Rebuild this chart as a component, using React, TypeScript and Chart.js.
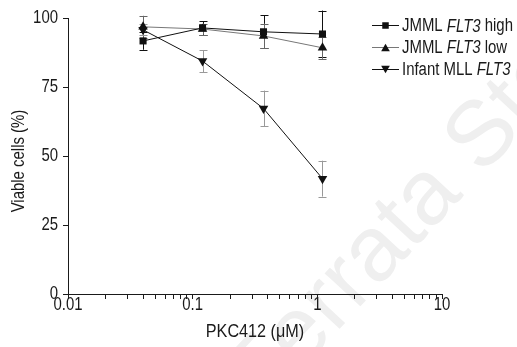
import { useEffect, useRef } from 'react';
import { Chart, registerables } from 'chart.js';
Chart.register(...registerables);

const doses = [0.04, 0.12, 0.37, 1.1];
const highMean = [91.7, 96.4, 95.0, 94.2];
const highErr = [3.2, 2.5, 6.0, 8.5];
const lowMean = [96.8, 96.0, 93.5, 89.2];
const lowErr = [4.0, 2.0, 4.5, 4.0];
const mllMean = [95.7, 84.4, 67.2, 41.8];
const mllErr = [2.0, 4.0, 6.5, 6.5];
const xMajor = [0.01, 0.1, 1, 10];
const xMajorLabels = ['0.01', '0.1', '1', '10'];
const yTicks = [0, 25, 50, 75, 100];
const legendParts = [
  ['JMML ', 'FLT3', ' high'],
  ['JMML ', 'FLT3', ' low'],
  ['Infant MLL ', 'FLT3', ''],
];

const FONT = '"Liberation Sans", Arial, sans-serif';
const SX = 0.83;
const INK = '#1a1a1a';

function drawText(ctx: CanvasRenderingContext2D, text: string, x: number, y: number, align: CanvasTextAlign, size = 18, sx = SX, italic = false, rot = 0) {
  ctx.save();
  ctx.translate(x, y);
  if (rot) ctx.rotate(rot);
  ctx.scale(sx, 1);
  ctx.font = (italic ? 'italic ' : '') + `${size}px ${FONT}`;
  ctx.textAlign = align;
  ctx.textBaseline = 'middle';
  ctx.fillStyle = INK;
  ctx.fillText(text, 0, 0);
  ctx.restore();
}

function drawMarker(ctx: CanvasRenderingContext2D, style: string, rot: number, r: number, x: number, y: number) {
  ctx.beginPath();
  if (style === 'rect') {
    const h = Math.SQRT1_2 * r;
    ctx.rect(x - h, y - h, 2 * h, 2 * h);
  } else {
    const a = (rot * Math.PI) / 180;
    for (let k = 0; k < 3; k++) {
      const ang = a - Math.PI / 2 + (k * 2 * Math.PI) / 3;
      const px = x + Math.cos(ang) * r;
      const py = y + Math.sin(ang) * r + (rot ? -r * 0.25 : r * 0.25);
      if (k === 0) ctx.moveTo(px, py); else ctx.lineTo(px, py);
    }
    ctx.closePath();
  }
  ctx.fill();
}

export default function App() {
  const ref = useRef<HTMLCanvasElement | null>(null);
  useEffect(() => {
    document.body.style.margin = '0';
    const canvas = ref.current!;
    const sets = [
      { label: 'JMML FLT3 high', mean: highMean, err: highErr, style: 'rect', rot: 0, r: 5, line: '#111', bar: '#111' },
      { label: 'JMML FLT3 low', mean: lowMean, err: lowErr, style: 'triangle', rot: 0, r: 5.5, line: '#777', bar: '#666' },
      { label: 'Infant MLL FLT3', mean: mllMean, err: mllErr, style: 'triangle', rot: 180, r: 5.5, line: '#111', bar: '#999' },
    ];
    const xTicks: number[] = [];
    for (let d = 0.01; d < 10; d *= 10) {
      for (let k = 1; k < 10; k++) xTicks.push(+(d * k).toPrecision(3));
    }
    xTicks.push(10);

    const plugin = {
      id: 'extras',
      beforeDraw(chart: any) {
        const ctx = chart.ctx;
        ctx.save();
        ctx.translate(262, 412);
        ctx.rotate((-47 * Math.PI) / 180);
        ctx.font = `92px ${FONT}`;
        ctx.fillStyle = '#efefef';
        ctx.textBaseline = 'alphabetic';
        ctx.textAlign = 'left';
        ctx.fillText('Ferrata Storti', 0, 0);
        ctx.restore();
      },
      beforeDatasetsDraw(chart: any) {
        const ctx = chart.ctx;
        const xs = chart.scales.x, ys = chart.scales.y;
        ctx.save();
        sets.forEach((s) => {
          ctx.strokeStyle = s.bar;
          ctx.lineWidth = 1;
          doses.forEach((d, i) => {
            const x = Math.round(xs.getPixelForValue(d)) + 0.5;
            const y1 = ys.getPixelForValue(s.mean[i] + s.err[i]);
            const y2 = ys.getPixelForValue(s.mean[i] - s.err[i]);
            ctx.beginPath();
            ctx.moveTo(x, y1); ctx.lineTo(x, y2);
            ctx.moveTo(x - 4, Math.round(y1) + 0.5); ctx.lineTo(x + 4, Math.round(y1) + 0.5);
            ctx.moveTo(x - 4, Math.round(y2) + 0.5); ctx.lineTo(x + 4, Math.round(y2) + 0.5);
            ctx.stroke();
          });
        });
        ctx.restore();
      },
      afterDraw(chart: any) {
        const ctx = chart.ctx;
        const xs = chart.scales.x, ys = chart.scales.y;
        yTicks.forEach((v) => drawText(ctx, String(v), 58, ys.getPixelForValue(v) + 0.5, 'right'));
        xMajor.forEach((v, i) => drawText(ctx, xMajorLabels[i], xs.getPixelForValue(v), 305, 'center'));
        drawText(ctx, 'PKC412 (μM)', (xs.left + xs.right) / 2, 332, 'center', 18, 0.9);
        drawText(ctx, 'Viable cells (%)', 19.5, 161, 'center', 18, SX, false, -Math.PI / 2);
        ctx.save();
        sets.forEach((s, i) => {
          const y = 25 + i * 21.8;
          ctx.strokeStyle = s.line;
          ctx.lineWidth = 1;
          ctx.beginPath();
          ctx.moveTo(372, Math.round(y) + 0.5); ctx.lineTo(399, Math.round(y) + 0.5);
          ctx.stroke();
          ctx.fillStyle = '#111';
          drawMarker(ctx, s.style, s.rot, s.style === 'rect' ? 4.6 : 5, 385.5, Math.round(y) + 0.5);
          let tx = 402;
          legendParts[i].forEach((p, j) => {
            if (!p) return;
            drawText(ctx, p, tx, y + 1.5, 'left', 18, SX, j === 1);
            ctx.font = (j === 1 ? 'italic ' : '') + `18px ${FONT}`;
            tx += ctx.measureText(p).width * SX;
          });
        });
        ctx.restore();
      },
    };

    const chart = new Chart(canvas, {
      type: 'line',
      data: {
        datasets: sets.map((s) => ({
          label: s.label,
          data: doses.map((d, i) => ({ x: d, y: s.mean[i] })),
          borderColor: s.line,
          borderWidth: 1,
          backgroundColor: '#111',
          pointBackgroundColor: '#111',
          pointBorderColor: '#111',
          pointBorderWidth: 0,
          pointStyle: s.style as any,
          rotation: s.rot,
          pointRadius: s.r,
          tension: 0,
        })),
      },
      options: {
        animation: false,
        responsive: false,
        layout: { padding: { top: 18, right: 75, bottom: 0, left: 0 } },
        plugins: { legend: { display: false }, tooltip: { enabled: false } },
        scales: {
          x: {
            type: 'logarithmic',
            min: 0.01,
            max: 10,
            afterBuildTicks: (sc: any) => { sc.ticks = xTicks.map((v) => ({ value: v })); },
            afterFit: (sc: any) => { sc.height = 53; },
            grid: { drawOnChartArea: false, tickLength: 5, color: INK, tickColor: INK },
            border: { display: true, color: INK, width: 1 },
            ticks: { display: false, autoSkip: false },
          },
          y: {
            min: 0,
            max: 100,
            afterBuildTicks: (sc: any) => { sc.ticks = yTicks.map((v) => ({ value: v })); },
            afterFit: (sc: any) => { sc.width = 68; },
            grid: { drawOnChartArea: false, tickLength: 5, color: INK, tickColor: INK },
            border: { display: true, color: INK, width: 1 },
            ticks: { display: false },
          },
        },
      },
      plugins: [plugin],
    });
    return () => chart.destroy();
  }, []);
  return <canvas ref={ref} width={517} height={347} style={{ display: 'block' }} />;
}
